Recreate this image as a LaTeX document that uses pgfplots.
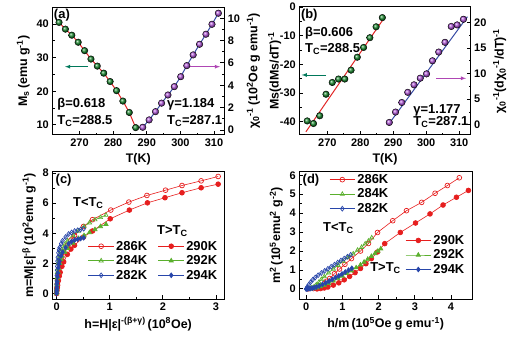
\documentclass[border=0pt]{standalone}
\usepackage{fontspec}
\setmainfont{Liberation Sans}
\usepackage{pgfplots}
\pgfplotsset{compat=1.18}
\definecolor{gball}{RGB}{25,135,45}
\definecolor{pball}{RGB}{175,85,215}
\definecolor{fitred}{RGB}{225,35,35}
\definecolor{fitblue}{RGB}{55,75,165}
\definecolor{arrg}{RGB}{0,120,90}
\definecolor{arrp}{RGB}{175,70,180}
\definecolor{cred}{RGB}{230,30,30}
\definecolor{cgreen}{RGB}{90,175,45}
\definecolor{cblue}{RGB}{40,70,170}
\newcommand{\fs}[1]{\fontsize{#1}{#1}\selectfont\bfseries}
\newcommand{\sub}[1]{\textsubscript{#1}}
\newcommand{\sps}[1]{\textsuperscript{#1}}
\pgfplotsset{
  base/.style={scale only axis, anchor=south west,
    /pgf/number format/assume math mode=true,
    tick label style={font=\fs{11}},
    label style={font=\fs{12.5}},
    tick align=inside,
    axis line style={line width=1pt},
    major tick length=4bp, minor tick length=2.2bp,
    every tick/.style={black, line width=0.9pt},
    minor tick num=1,
    xtick pos=left, ytick pos=left},
  twin/.style={base, axis x line=none, axis y line*=right, ytick pos=right},
  leg/.style={legend image code/.code={\draw[mark repeat=2,mark phase=2,##1] plot coordinates {(0cm,0cm) (0.45cm,0cm) (0.9cm,0cm)};}},
  ser/.style={line width=0.6pt, mark size=2.4pt, mark options={line width=0.7pt}},
}
\begin{document}
\begin{tikzpicture}
\path[use as bounding box] (0,0) rectangle (519bp,340bp);
% ---------------- (a)
\begin{axis}[base, at={(52.3bp,205bp)}, width=172bp, height=127.7bp,
  xmin=261.9, xmax=313.06, ymin=7, ymax=45,
  xtick={270,280,...,310}, ytick={10,20,30,40},
  xlabel={T(K)}, ylabel={M\sub{s}\,(emu g\sps{-1})}]
\addplot[only marks, mark=ball, mark options={ball color=gball}, mark size=3.3pt] table {
263.9 40.5
265.8 38.5
267.7 36.7
269.6 34.6
271.5 32.1
273.4 29.6
275.3 27.5
277.2 25.4
279.1 22.9
281.0 20.2
282.9 17.1
284.8 13.7
286.7 9.2
};
\addplot[fitred, line width=1pt] table {
263.9 40.5
265.8 38.5
267.7 36.7
269.6 34.6
271.5 32.1
273.4 29.6
275.3 27.5
277.2 25.4
279.1 22.9
281.0 20.2
282.9 17.1
284.8 13.7
286.7 9.2
};
\node[font=\fs{13}, anchor=north west, inner sep=1.5bp] at (rel axis cs:0,1) {(a)};
\node[font=\fs{13}, anchor=base west, inner sep=0pt] at (rel axis cs:0.029,0.214) {β=0.618};
\node[font=\fs{13}, anchor=base west, inner sep=0pt] at (rel axis cs:0.029,0.081) {T\sub{C}=288.5};
\draw[arrg, line width=0.8pt, -latex] (rel axis cs:0.209,0.535) -- (rel axis cs:0.074,0.535);
\end{axis}
\begin{axis}[twin, at={(52.3bp,205bp)}, width=172bp, height=127.7bp,
  xmin=261.9, xmax=313.06, ymin=-0.45, ymax=10.98,
  ytick={0,2,...,10},
  ylabel={χ\sub{0}\sps{-1}\,(10\sps{2}Oe g emu\sps{-1})}]
\addplot[only marks, mark=ball, mark options={ball color=pball}, mark size=3.3pt] table {
288.8 0.24
290.7 0.9
292.6 1.64
294.4 2.4
296.3 3.13
298.2 3.88
300.1 4.77
301.9 5.76
303.8 6.72
305.7 7.67
307.6 8.57
309.4 9.46
311.3 10.45
};
\addplot[fitblue, line width=1pt] table {
288.8 0.24
290.7 0.9
292.6 1.64
294.4 2.4
296.3 3.13
298.2 3.88
300.1 4.77
301.9 5.76
303.8 6.72
305.7 7.67
307.6 8.57
309.4 9.46
311.3 10.45
};
\node[font=\fs{13}, anchor=base west, inner sep=0pt] at (rel axis cs:0.667,0.214) {γ=1.184};
\node[font=\fs{13}, anchor=base west, inner sep=0pt] at (rel axis cs:0.667,0.081) {T\sub{C}=287.1};
\draw[arrp, line width=0.8pt, -latex] (rel axis cs:0.771,0.535) -- (rel axis cs:0.975,0.535);
\end{axis}
% ---------------- (b)
\begin{axis}[base, at={(299.3bp,205bp)}, width=171.4bp, height=128bp,
  xmin=261.5, xmax=313.5, ymin=-44.6, ymax=0,
  xtick={270,280,...,310}, ytick={-40,-30,...,0},
  xlabel={T(K)}, ylabel={Ms(dMs/dT)\sps{-1}}, ylabel shift=-8bp]
\addplot[only marks, mark=ball, mark options={ball color=gball}, mark size=3.3pt] table {
263.9 -39.7
265.8 -40.6
267.7 -37.9
269.6 -30.4
271.5 -26.3
273.4 -25.1
275.3 -25.1
277.2 -22.0
279.1 -17.5
281.0 -14.1
282.9 -10.7
284.8 -6.9
286.7 -3.7
};
\addplot[fitred, line width=1pt] table {
263.5 -43.5
287.5 -3.4
};
\node[font=\fs{13}, anchor=north west, inner sep=1.5bp] at (rel axis cs:0,1) {(b)};
\node[font=\fs{13}, anchor=base west, inner sep=0pt] at (rel axis cs:0.033,0.766) {β=0.606};
\node[font=\fs{13}, anchor=base west, inner sep=0pt] at (rel axis cs:0.033,0.648) {T\sub{C}=288.5};
\draw[arrg, line width=0.8pt, -latex] (rel axis cs:0.156,0.469) -- (rel axis cs:0.014,0.469);
\end{axis}
\begin{axis}[twin, at={(299.3bp,205bp)}, width=171.4bp, height=128bp,
  xmin=261.5, xmax=313.5, ymin=-2, ymax=23,
  ytick={0,5,...,20},
  ylabel={χ\sub{0}\sps{-1}(dχ\sub{0}\sps{-1}/dT)\sps{-1}}]
\addplot[only marks, mark=ball, mark options={ball color=pball}, mark size=3.3pt] table {
288.8 0.45
290.7 2.48
292.6 4.35
294.4 6.33
296.3 7.8
298.2 9.1
300.1 9.94
301.9 12.5
303.8 14.2
305.7 16.1
307.6 19.2
309.4 19.5
311.3 20.6
};
\addplot[fitblue, line width=1pt] table {
288.5 0.0
312.5 21.1
};
\node[font=\fs{13}, anchor=base west, inner sep=0pt] at (rel axis cs:0.665,0.166) {γ=1.177};
\node[font=\fs{13}, anchor=base west, inner sep=0pt] at (rel axis cs:0.665,0.073) {T\sub{C}=287.1};
\draw[arrp, line width=0.8pt, -latex] (rel axis cs:0.80,0.443) -- (rel axis cs:0.973,0.443);
\end{axis}
% ---------------- (c)
\begin{axis}[base, leg, at={(52.3bp,40.5bp)}, width=171.7bp, height=128bp,
  xmin=-0.08, xmax=3.15, ymin=-0.4, ymax=8.1,
  xtick={0,1,2,3}, ytick={0,2,...,8},
  xlabel={h=H|ε|\sps{-(β+γ)}\,(10\sps{8}Oe)},
  ylabel={m=M|ε|\sps{-β}\,(10\sps{2}emu g\sps{-1})},
  legend columns=2, legend cell align=left,
  legend style={draw=none, fill=none, font=\fs{13}, at={(rel axis cs:0.19,0.49)}, anchor=north west,
    /tikz/every even column/.append style={column sep=9bp}, row sep=0pt}]
\addplot[ser, cred, mark=o, forget plot] table {
0 0
0.007 0.35
0.014 0.65
0.020 0.9
0.034 1.3
0.051 1.7
0.068 2.0
0.101 2.45
0.135 2.75
0.203 3.2
0.270 3.55
0.338 3.85
0.507 4.45
0.676 4.9
1.02 5.54
1.36 6.07
1.70 6.51
2.05 6.86
2.36 7.17
2.72 7.48
3.04 7.77
};
\addplot[ser, cgreen, mark=triangle, forget plot] table {
0 0
0.0021 0.25
0.0041 0.5
0.0062 0.7
0.0103 1.05
0.0155 1.4
0.0207 1.65
0.031 2.0
0.0413 2.25
0.062 2.55
0.0827 2.8
0.103 2.95
0.155 3.25
0.207 3.5
0.31 3.85
0.413 4.15
0.517 4.45
0.62 4.7
0.723 4.9
0.827 5.05
0.93 5.2
};
\addplot[ser, cblue, mark=diamond, forget plot] table {
0 0
0.00113 0.3
0.00227 0.6
0.0034 0.85
0.00567 1.2
0.0085 1.55
0.0113 1.8
0.017 2.15
0.0227 2.4
0.034 2.7
0.0453 2.9
0.0567 3.05
0.085 3.3
0.113 3.5
0.17 3.75
0.227 3.95
0.283 4.05
0.34 4.15
0.397 4.2
0.453 4.25
0.51 4.3
};
\addplot[ser, cred, mark=*, forget plot] table {
0 0
0.0068 0.2
0.0135 0.4
0.020 0.55
0.034 0.85
0.051 1.15
0.068 1.4
0.101 1.8
0.135 2.1
0.203 2.6
0.270 2.95
0.338 3.2
0.507 3.75
0.676 4.15
1.01 4.96
1.37 5.54
1.71 6.02
2.04 6.36
2.36 6.69
2.72 7.02
3.04 7.26
};
\addplot[ser, cgreen, mark=triangle*, forget plot] table {
0 0
0.0021 0.12
0.0041 0.25
0.0062 0.38
0.0103 0.6
0.0155 0.85
0.0207 1.05
0.031 1.4
0.0413 1.65
0.062 2.0
0.0827 2.25
0.103 2.45
0.155 2.75
0.207 3.0
0.31 3.35
0.413 3.65
0.517 3.85
0.62 4.05
0.723 4.25
0.827 4.45
0.93 4.6
};
\addplot[ser, cblue, mark=diamond*, forget plot] table {
0 0
0.00113 0.1
0.00227 0.2
0.0034 0.3
0.00567 0.45
0.0085 0.65
0.0113 0.8
0.017 1.1
0.0227 1.35
0.034 1.7
0.0453 1.95
0.0567 2.15
0.085 2.5
0.113 2.75
0.17 3.05
0.227 3.3
0.283 3.45
0.34 3.55
0.397 3.6
0.453 3.65
0.51 3.7
};
\addlegendimage{ser, cred, mark=o}\addlegendentry{286K}
\addlegendimage{ser, cred, mark=*}\addlegendentry{290K}
\addlegendimage{ser, cgreen, mark=triangle}\addlegendentry{284K}
\addlegendimage{ser, cgreen, mark=triangle*}\addlegendentry{292K}
\addlegendimage{ser, cblue, mark=diamond}\addlegendentry{282K}
\addlegendimage{ser, cblue, mark=diamond*}\addlegendentry{294K}
\node[font=\fs{13}, anchor=north west, inner sep=1.5bp] at (rel axis cs:0.01,0.99) {(c)};
\node[font=\fs{13}, anchor=base west, inner sep=0pt] at (rel axis cs:0.12,0.728) {T<T\sub{C}};
\node[font=\fs{13}, anchor=base west, inner sep=0pt] at (rel axis cs:0.61,0.507) {T>T\sub{C}};
\end{axis}
% ---------------- (d)
\begin{axis}[base, leg, at={(299.3bp,40.5bp)}, width=172.7bp, height=128bp,
  xmin=-0.19, xmax=4.58, ymin=-0.56, ymax=6.2,
  xtick={0,1,...,4}, ytick={0,1,...,6},
  xlabel={h/m\,(10\sps{5}Oe g emu\sps{-1})},
  ylabel={m\sps{2}\,(10\sps{5}emu\sps{2} g\sps{-2})},
  legend cell align=left,
  legend style={draw=none, fill=none, font=\fs{13}, at={(rel axis cs:0.155,1.01)}, anchor=north west, row sep=0pt}]
\addplot[ser, cred, mark=o] table {
0.05 0.0
0.2 0.02
0.3 0.05
0.38 0.1
0.45 0.18
0.5 0.28
0.56 0.4
0.65 0.55
0.78 0.8
0.92 1.05
1.07 1.3
1.25 1.6
1.5 2.0
1.72 2.4
1.97 2.98
2.39 3.60
2.77 4.13
3.19 4.57
3.56 5.05
3.90 5.46
4.23 5.87
};
\addlegendentry{286K}
\addplot[ser, cgreen, mark=triangle] table {
0.05 0.01
0.15 0.05
0.22 0.12
0.28 0.22
0.35 0.35
0.42 0.5
0.5 0.65
0.62 0.85
0.75 1.05
0.88 1.25
1.02 1.45
1.15 1.65
1.3 1.85
1.42 2.05
1.53 2.2
1.63 2.38
1.72 2.53
1.81 2.7
};
\addlegendentry{284K}
\addplot[ser, cblue, mark=diamond] table {
0 0
0.03 0.1
0.07 0.22
0.12 0.35
0.18 0.48
0.25 0.6
0.33 0.72
0.42 0.84
0.51 0.95
0.6 1.06
0.69 1.17
0.78 1.28
0.87 1.39
0.96 1.5
1.05 1.6
1.14 1.7
1.23 1.8
};
\addlegendentry{282K}
\node[font=\fs{13}, anchor=north west, inner sep=1.5bp] at (rel axis cs:0.01,0.99) {(d)};
\node[font=\fs{13}, anchor=base west, inner sep=0pt] at (rel axis cs:0.137,0.533) {T<T\sub{C}};
\node[font=\fs{13}, anchor=base west, inner sep=0pt] at (rel axis cs:0.41,0.22) {T>T\sub{C}};
\end{axis}
\begin{axis}[base, leg, hide axis, at={(299.3bp,40.5bp)}, width=172.7bp, height=128bp,
  xmin=-0.19, xmax=4.58, ymin=-0.56, ymax=6.2,
  legend cell align=left,
  legend style={draw=none, fill=none, font=\fs{13}, at={(rel axis cs:0.595,0.535)}, anchor=north west, row sep=0pt}]
\addplot[ser, cred, mark=*] table {
0.3 0.0
0.4 0.02
0.5 0.05
0.6 0.1
0.75 0.2
0.9 0.32
1.05 0.48
1.2 0.66
1.35 0.86
1.5 1.08
1.65 1.33
1.8 1.6
1.97 1.95
2.17 2.39
2.60 2.98
3.02 3.48
3.42 3.96
3.78 4.43
4.15 4.84
4.48 5.20
};
\addlegendentry{290K}
\addplot[ser, cgreen, mark=triangle*] table {
0.1 0.0
0.2 0.02
0.3 0.06
0.4 0.12
0.5 0.2
0.62 0.3
0.75 0.42
0.88 0.55
1.0 0.68
1.12 0.82
1.25 0.96
1.38 1.12
1.5 1.27
1.6 1.42
1.7 1.57
1.8 1.72
1.9 1.87
1.98 2.0
2.06 2.12
};
\addlegendentry{292K}
\addplot[ser, cblue, mark=diamond*] table {
0 0
0.04 0.0
0.08 0.01
0.12 0.02
0.17 0.04
0.22 0.06
0.28 0.1
0.36 0.16
0.45 0.24
0.54 0.32
0.63 0.41
0.72 0.5
0.81 0.6
0.9 0.69
0.99 0.79
1.08 0.89
1.17 0.99
1.26 1.09
};
\addlegendentry{294K}
\end{axis}
\end{tikzpicture}
\end{document}
